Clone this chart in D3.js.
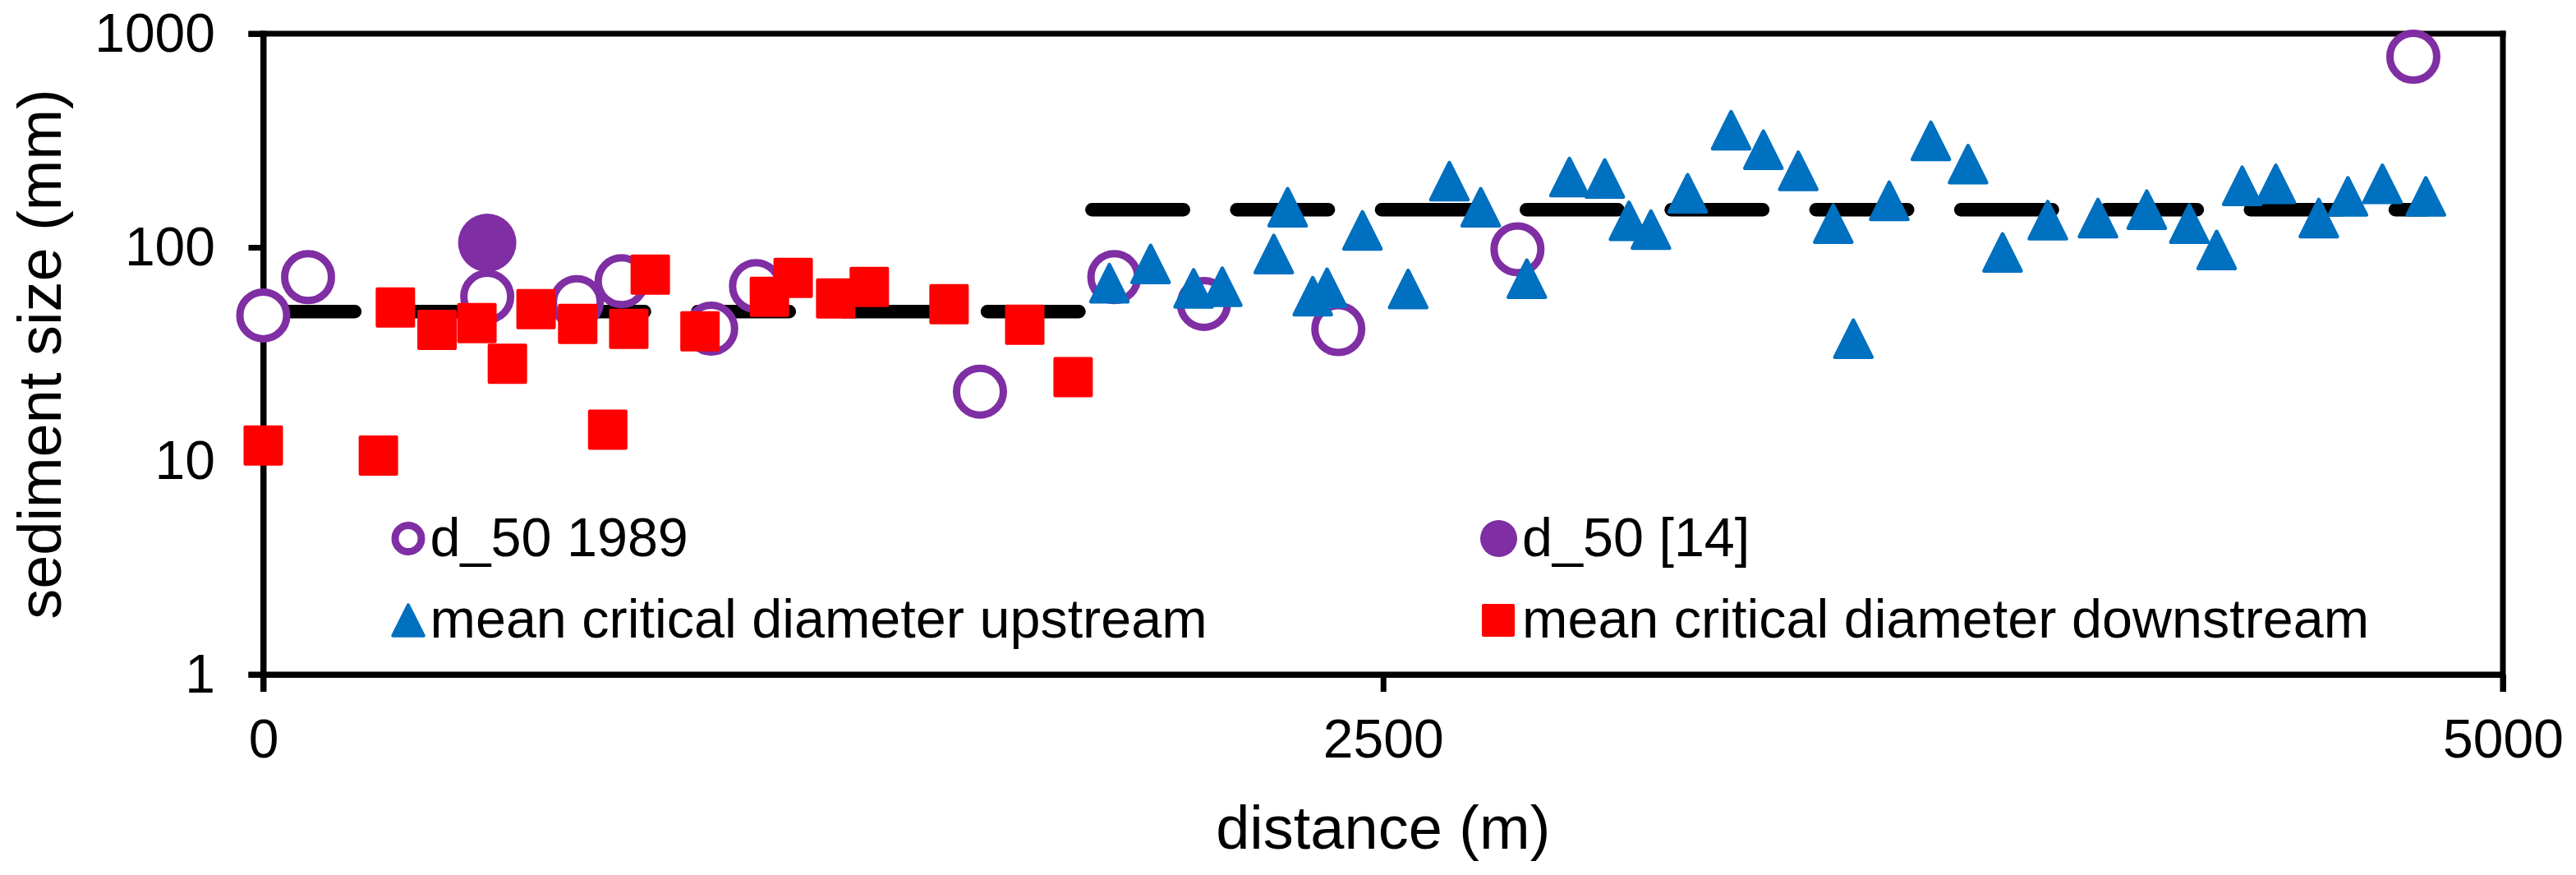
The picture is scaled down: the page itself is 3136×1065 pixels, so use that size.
<!DOCTYPE html>
<html>
<head>
<meta charset="utf-8">
<script src="https://cdn.jsdelivr.net/npm/d3@7"></script>
<style>
  html, body { margin: 0; padding: 0; background: #fff; }
  svg { display: block; font-family: "Liberation Sans", Arial, sans-serif; }
</style>
</head>
<body>
<svg id="chart" width="3136" height="1065"></svg>
<script>
// ---- data ----
const dist1989 = [0, 100, 500, 700, 800, 1000, 1100, 1600, 1900, 2100, 2400, 2800, 4800];
const d50_1989 = [48, 72.5, 58.8, 55.4, 69.4, 41.6, 65.8, 21.1, 72.5, 54.3, 41.4, 97.9, 780];

const dist14 = [500];
const d50_14 = [105];

const distUp = [1889, 1981, 2077, 2141, 2256, 2287, 2343, 2375, 2454, 2556, 2648, 2718, 2821, 2916, 2995,
  3049, 3098, 3180, 3277, 3349, 3427, 3505, 3550, 3630, 3723, 3806, 3883, 3984, 4096, 4205,
  4300, 4361, 4418, 4493, 4589, 4654, 4731, 4828];
const critUp = [67.9, 83.5, 64.2, 65.3, 93, 154, 59, 64.6, 120, 63.8, 204, 154, 71.2, 213, 210,
  133, 121, 179, 353, 286, 228, 129, 37.3, 165, 315, 245, 94.6, 134, 137, 150,
  129, 97.1, 194, 198, 137, 173, 198, 173];

const distDown = [0, 257, 295, 388, 477, 545, 609, 702, 769, 816, 864, 975, 1130, 1183, 1278, 1353, 1531, 1700, 1808];
const critDown = [11.8, 10.6, 52.3, 41.1, 44.2, 28.5, 51.3, 43.8, 14.0, 41.5, 74.5, 40.4, 58.6, 71.9, 57.6, 65.2, 54.1, 43.4, 24.7];

const stepStart = [0, 1850];
const stepEnd = [1850, 4830];
const stepValue = [50, 150];

const xTicks = [0, 2500, 5000];
const yTicks = [1, 10, 100, 1000];

const legendLabels = ["d_50 1989", "d_50 [14]", "mean critical diameter upstream", "mean critical diameter downstream"];

// ---- styling ----
const PURPLE = "#7F2EA3", BLUE = "#0070C0", RED = "#FF0000";
const L = 320.5, R = 3047, T = 41, B = 821;

const svg = d3.select("#chart");
const x = d3.scaleLinear().domain([0, 5000]).range([L, R]);
const y = d3.scaleLog().domain([1, 1000]).range([B, T]);

// axes
const yAxis = d3.axisLeft(y).tickValues(yTicks).tickFormat(d3.format("d"))
  .tickSize(18).tickSizeOuter(0).tickPadding(40.5);
const xAxis = d3.axisBottom(x).tickValues(xTicks).tickFormat(d3.format("d"))
  .tickSize(21).tickSizeOuter(0).tickPadding(33);

const gy = svg.append("g").attr("transform", `translate(${L},0)`).call(yAxis);
const gx = svg.append("g").attr("transform", `translate(0,${B})`).call(xAxis);
[gx, gy].forEach(g => {
  g.select(".domain").attr("stroke", "#000").attr("stroke-width", 7);
  g.selectAll(".tick line").attr("stroke", "#000").attr("stroke-width", 7);
  g.selectAll(".tick text").attr("fill", "#000").style("font-size", "66px")
    .style("font-family", "'Liberation Sans', Arial, sans-serif");
});
// extend left axis down to the x tick end
svg.append("line").attr("x1", L).attr("x2", L).attr("y1", T - 3.5).attr("y2", B + 21)
  .attr("stroke", "#000").attr("stroke-width", 7);
// top and right border of plot area
svg.append("line").attr("x1", L - 18).attr("x2", R + 3.5).attr("y1", y(1000)).attr("y2", y(1000))
  .attr("stroke", "#000").attr("stroke-width", 7);
svg.append("line").attr("x1", R).attr("x2", R).attr("y1", y(1000) - 3.5).attr("y2", B + 21)
  .attr("stroke", "#000").attr("stroke-width", 7);
svg.append("line").attr("x1", L - 18).attr("x2", R).attr("y1", B).attr("y2", B)
  .attr("stroke", "#000").attr("stroke-width", 7);

// axis titles
svg.append("text").attr("x", (L + R) / 2).attr("y", 1033).attr("text-anchor", "middle")
  .style("font-size", "74px").attr("fill", "#000").text("distance (m)");
svg.append("text").attr("transform", `translate(74,${(T + B) / 2}) rotate(-90)`).attr("text-anchor", "middle")
  .style("font-size", "74px").attr("fill", "#000").text("sediment size (mm)");

// dashed step lines
const steps = stepStart.map((s, i) => ({ s, e: stepEnd[i], v: stepValue[i] }));
svg.append("g").selectAll("line").data(steps).join("line")
  .attr("x1", d => x(d.s)).attr("x2", d => x(d.e))
  .attr("y1", d => y(d.v)).attr("y2", d => y(d.v))
  .attr("stroke", "#000").attr("stroke-width", 16.5)
  .attr("stroke-linecap", "round").attr("stroke-dasharray", "111.5,64.8");

// marker helpers
const triPath = (h) => `M0,${-h} L${h},${h} L${-h},${h} Z`;

// open circles (1989)
const pts1989 = dist1989.map((d, i) => ({ d, v: d50_1989[i] }));
svg.append("g").selectAll("circle").data(pts1989).join("circle")
  .attr("cx", p => x(p.d)).attr("cy", p => y(p.v)).attr("r", 28.5)
  .attr("fill", "#fff").attr("stroke", PURPLE).attr("stroke-width", 9);

// filled circle [14]
const pts14 = dist14.map((d, i) => ({ d, v: d50_14[i] }));
svg.append("g").selectAll("circle").data(pts14).join("circle")
  .attr("cx", p => x(p.d)).attr("cy", p => y(p.v)).attr("r", 35.5)
  .attr("fill", PURPLE);

// triangles upstream
const ptsUp = distUp.map((d, i) => ({ d, v: critUp[i] }));
svg.append("g").selectAll("path").data(ptsUp).join("path")
  .attr("transform", p => `translate(${x(p.d)},${y(p.v)})`)
  .attr("d", triPath(22.5))
  .attr("fill", BLUE).attr("stroke", BLUE).attr("stroke-width", 4.5).attr("stroke-linejoin", "round");

// squares downstream
const ptsDown = distDown.map((d, i) => ({ d, v: critDown[i] }));
svg.append("g").selectAll("rect").data(ptsDown).join("rect")
  .attr("x", p => x(p.d) - 22).attr("y", p => y(p.v) - 22.5)
  .attr("width", 44).attr("height", 45)
  .attr("fill", RED).attr("stroke", RED).attr("stroke-width", 4).attr("stroke-linejoin", "round");

// legend
const lg = svg.append("g");
const row1 = 655.5, row2 = 755;
lg.append("circle").attr("cx", 497).attr("cy", row1).attr("r", 16)
  .attr("fill", "#fff").attr("stroke", PURPLE).attr("stroke-width", 9);
lg.append("circle").attr("cx", 1824.5).attr("cy", row1).attr("r", 22.5).attr("fill", PURPLE);
lg.append("path").attr("transform", `translate(497,${row2})`).attr("d", triPath(18.7))
  .attr("fill", BLUE).attr("stroke", BLUE).attr("stroke-width", 4).attr("stroke-linejoin", "round");
lg.append("rect").attr("x", 1824 - 18).attr("y", row2 - 18).attr("width", 36).attr("height", 36)
  .attr("fill", RED).attr("stroke", RED).attr("stroke-width", 4).attr("stroke-linejoin", "round");
const legPos = [[523.5, 676.7], [1853, 676.7], [523.5, 775.7], [1853, 775.7]];
lg.selectAll("text").data(legendLabels).join("text")
  .attr("x", (d, i) => legPos[i][0]).attr("y", (d, i) => legPos[i][1])
  .style("font-size", "66.5px").attr("fill", "#000").text(d => d);
</script>
</body>
</html>
